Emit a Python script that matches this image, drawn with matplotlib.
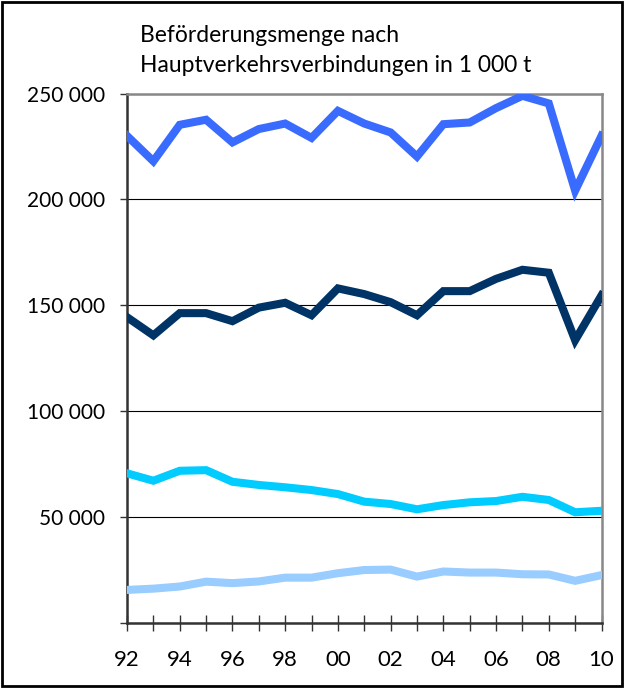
import matplotlib
matplotlib.use("Agg")
import matplotlib.pyplot as plt
from matplotlib.ticker import FuncFormatter, MultipleLocator
from matplotlib.patches import Rectangle

years = list(range(1992, 2011))
year_labels = [f"{y % 100:02d}" for y in years]

# Beförderungsmenge in 1 000 t
top_series = [230000, 218000, 235200, 237600, 226900, 233200, 235800, 229000, 241800,
              235800, 231600, 220200, 235500, 236300, 243100, 248900, 245300, 204100, 230000]
navy_series = [144300, 135700, 146200, 146200, 142400, 148800, 151100, 145200, 157900,
               155200, 151400, 145200, 156600, 156600, 162400, 166700, 165300, 133400, 154600]
cyan_series = [70500, 67000, 71700, 72000, 66500, 65000, 63900, 62600, 60700,
               57100, 56000, 53500, 55500, 56800, 57400, 59400, 57900, 52100, 52800]
light_series = [15400, 16000, 17000, 19300, 18600, 19400, 21200, 21200, 23300,
                24800, 25000, 21700, 24100, 23600, 23600, 22800, 22700, 19700, 22400]

title_lines = ["Beförderungsmenge nach", "Hauptverkehrsverbindungen in 1 000 t"]

plt.rcParams['font.family'] = ['Lato', 'DejaVu Sans']

fig = plt.figure(figsize=(6.24, 6.88), dpi=100)
ax = fig.add_axes([127/624, 1-622.5/688, (601.5-127)/624, (622.5-93.5)/688])

lw = 5.8
ax.plot(years, light_series, color='#99ccff', lw=lw, solid_joinstyle='miter', zorder=3)
ax.plot(years, cyan_series, color='#00ccff', lw=lw, solid_joinstyle='miter', zorder=3)
ax.plot(years, navy_series, color='#003366', lw=lw, solid_joinstyle='miter', zorder=3)
ax.plot(years, top_series, color='#3a6bff', lw=lw, solid_joinstyle='miter', zorder=3)

ax.set_xlim(1992, 2010)
ax.set_ylim(0, 250000)
ax.yaxis.set_major_locator(MultipleLocator(50000))
ax.yaxis.set_major_formatter(FuncFormatter(
    lambda v, p: '' if v == 0 else f"{int(v):,}".replace(',', ' ')))
ax.set_xticks(years)
ax.set_xticklabels([lab if i % 2 == 0 else '' for i, lab in enumerate(year_labels)])

ax.grid(axis='y', color='black', lw=0.8, zorder=1)
ax.tick_params(axis='y', direction='out', length=5, width=1, color='#333333',
               labelsize=15, pad=11)
ax.tick_params(axis='x', direction='inout', length=11.5, width=1, color='#333333',
               labelsize=16, pad=14)

for s in ['top', 'right']:
    ax.spines[s].set_color('#888888')
    ax.spines[s].set_linewidth(1.8)
for s in ['left', 'bottom']:
    ax.spines[s].set_color('#333333')
    ax.spines[s].set_linewidth(1.8)

fig.text(140/624, 1-35/688, title_lines[0], fontsize=16.5, va='center', ha='left')
fig.text(140/624, 1-66/688, title_lines[1], fontsize=16.5, va='center', ha='left')

fig.patches.append(Rectangle((0.003, 0.003), 0.994, 0.994, transform=fig.transFigure,
                             fill=False, edgecolor='black', lw=2))

fig.savefig('out.png', dpi=100)
